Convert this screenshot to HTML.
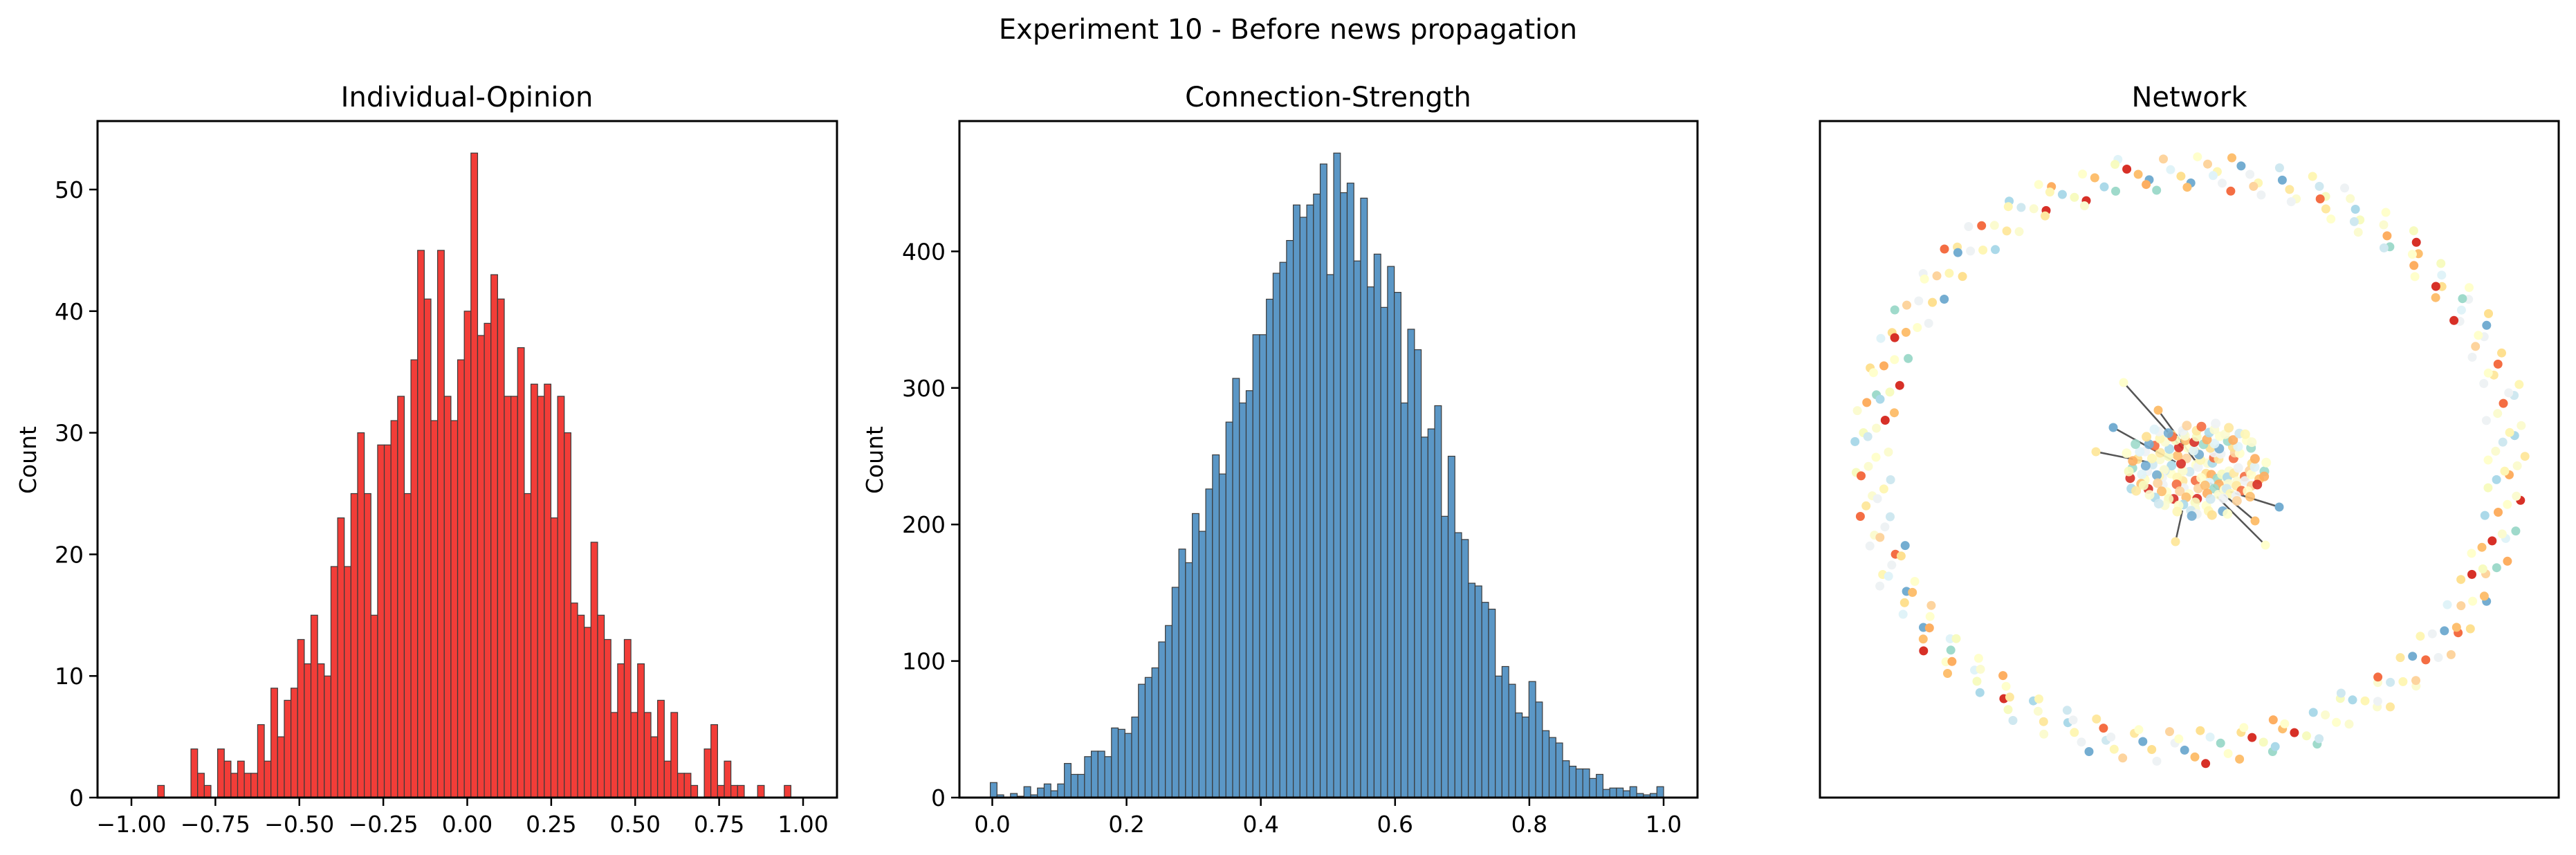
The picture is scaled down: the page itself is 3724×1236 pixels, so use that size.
<!DOCTYPE html>
<html>
<head>
<meta charset="utf-8">
<style>
html,body{margin:0;padding:0;background:#fff;}
svg{display:block;font-family:"DejaVu Sans","Liberation Sans",sans-serif;}
</style>
</head>
<body>
<svg id="fig" xmlns="http://www.w3.org/2000/svg" width="3724" height="1236" viewBox="0 0 3724 1236">
<rect width="3724" height="1236" fill="#fff"/>
<text x="1862" y="56" font-size="40" text-anchor="middle">Experiment 10 - Before news propagation</text>
<text x="675" y="154" font-size="40" text-anchor="middle">Individual-Opinion</text>
<text x="1920" y="154" font-size="40" text-anchor="middle">Connection-Strength</text>
<text x="3165" y="154" font-size="40" text-anchor="middle">Network</text>
<text transform="translate(52,665) rotate(-90)" font-size="33" text-anchor="middle">Count</text>
<text transform="translate(1276,665) rotate(-90)" font-size="33" text-anchor="middle">Count</text>
<g id="p1"></g>
<g id="p2"></g>
<g id="p3"></g>
<rect x="141" y="175" width="1069" height="978" fill="none" stroke="#000" stroke-width="3"/>
<rect x="1387" y="175" width="1067" height="978" fill="none" stroke="#000" stroke-width="3"/>
<rect x="2631" y="175" width="1068" height="978" fill="none" stroke="#000" stroke-width="3"/>
</svg>
<script>
// ---- Opinion histogram data ----
const opinionBinStart = -0.922;
const opinionBinWidth = 0.01985;
const opinionCounts = [1,0,0,0,0,4,2,1,0,4,3,2,3,2,2,6,3,9,5,8,9,13,11,15,11,10,19,23,19,25,30,25,15,29,29,31,33,25,36,45,41,31,45,33,31,36,40,53,38,39,43,41,33,33,37,25,34,33,34,23,33,30,16,15,14,21,15,13,7,11,13,7,11,7,5,8,3,7,2,2,1,0,4,6,1,3,1,1,0,0,1,0,0,0,1];
const opinionXTicks = [-1.00,-0.75,-0.50,-0.25,0.00,0.25,0.50,0.75,1.00];
const opinionXTickLabels = ["\u22121.00","\u22120.75","\u22120.50","\u22120.25","0.00","0.25","0.50","0.75","1.00"];
const opinionYTicks = [0,10,20,30,40,50];

// ---- Strength histogram data ----
const strengthBinStart = -0.003;
const strengthBinWidth = 0.01003;
const strengthCounts = [11,2,0,3,1,8,2,7,10,5,10,25,17,17,30,34,34,30,51,50,47,59,83,88,95,114,126,154,182,172,208,195,226,251,237,275,307,289,298,339,339,365,384,392,408,434,425,434,442,464,383,472,443,450,393,439,374,398,359,389,370,289,343,328,264,270,287,206,250,194,189,157,155,143,138,89,96,83,62,59,85,70,49,44,40,27,23,21,21,14,17,6,7,7,5,8,3,2,3,8];
const strengthXTicks = [0.0,0.2,0.4,0.6,0.8,1.0];
const strengthXTickLabels = ["0.0","0.2","0.4","0.6","0.8","1.0"];
const strengthYTicks = [0,100,200,300,400];

const NS = "http://www.w3.org/2000/svg";
function mk(tag, attrs, parent){
  const e = document.createElementNS(NS, tag);
  for (const k in attrs) e.setAttribute(k, attrs[k]);
  parent.appendChild(e);
  return e;
}
function hist(g, xs, ys, start, w, counts, fill, prefix){
  counts.forEach((c,i)=>{
    if (c<=0) return;
    const x0 = xs(start+i*w), x1 = xs(start+(i+1)*w);
    const r = mk('rect',{x:x0,y:ys(c),width:x1-x0,height:ys(0)-ys(c),fill:fill,stroke:'#3a3a3a','stroke-width':1.2},g);
    
    
  });
}
function axes(g, xs, ys, xt, xl, yt, prefix, left){
  xt.forEach((v,i)=>{
    const x = xs(v);
    mk('line',{x1:x,y1:1153,x2:x,y2:1165,stroke:'#000','stroke-width':2.5},g);
    const t = mk('text',{x:x,y:1203,'font-size':33,'text-anchor':'middle'},g);
    t.textContent = xl[i];
    
    
  });
  yt.forEach(v=>{
    const y = ys(v);
    mk('line',{x1:left-12,y1:y,x2:left,y2:y,stroke:'#000','stroke-width':2.5},g);
    const t = mk('text',{x:left-20,y:y+12,'font-size':33,'text-anchor':'end'},g);
    t.textContent = String(v);
    
    
  });
}
(function(){
  const g = document.getElementById('p1');
  const xs = v => 190 + (v+1)*485.5;
  const ys = v => 1153 - v*17.58;
  hist(g, xs, ys, opinionBinStart, opinionBinWidth, opinionCounts, '#f23d38', 'opinion');
  axes(g, xs, ys, opinionXTicks, opinionXTickLabels, opinionYTicks, 'opinion', 141);
})();
(function(){
  const g = document.getElementById('p2');
  const xs = v => 1434.5 + v*970.5;
  const ys = v => 1153 - v*1.974;
  hist(g, xs, ys, strengthBinStart, strengthBinWidth, strengthCounts, '#5b97c6', 'strength');
  axes(g, xs, ys, strengthXTicks, strengthXTickLabels, strengthYTicks, 'strength', 1387);
})();
// Panel 3: network (deterministic layout)
const networkPalette = ['#ffffcc','#fbfbd0','#fef6b5','#eef2f4','#fee090','#fdbf6f','#fdae61','#abd9e9','#cfe8f0','#f46d43','#74add1','#ffffcc','#9fdacb','#f7fbc0','#fbfbd0','#fee8a0','#eef2f4','#fdd49e','#e0f3f8','#d73027'];
const ringNodeCount = 300;
const clusterNodeCount = 170;
(function(){
  const g = document.getElementById('p3');
  const cx = 3165, cy = 665, rx = 462, ry = 418;
  const frac = v => v - Math.floor(v);
  for (let i=0;i<ringNodeCount;i++){
    const a = i*2.39996323;
    const j = (frac(i*0.7548776662)-0.5)*60;
    const x = cx + (rx + j)*Math.cos(a);
    const y = cy + (ry + j*0.9)*Math.sin(a);
    const col = networkPalette[Math.floor(frac(i*0.5698402910)*networkPalette.length)];
    const c = mk('circle',{cx:x.toFixed(1),cy:y.toFixed(1),r:6.5,fill:col},g);
    
    
  }
  const ccx = 3175, ccy = 678;
  const edges = [[-105,-125,-20,-30],[-55,-85,0,-10],[-120,-60,-30,-10],[-145,-25,-70,-10],[100,110,30,40],[85,75,20,20],[120,55,40,30],[-30,105,-20,60]];
  edges.forEach(e=>{
    const l = mk('line',{x1:ccx+e[0],y1:ccy+e[1],x2:ccx+e[2],y2:ccy+e[3],stroke:'#555','stroke-width':2.5},g);
    
    
  });
  edges.forEach((e,k)=>{
    const c = mk('circle',{cx:ccx+e[0],cy:ccy+e[1],r:6.5,fill:networkPalette[(k*5)%networkPalette.length]},g);
    
    
  });
  for (let i=0;i<clusterNodeCount;i++){
    const a = i*2.39996323;
    const r = Math.sqrt((i+0.5)/clusterNodeCount);
    const x = ccx + r*105*Math.cos(a) + (frac(i*0.31)-0.5)*12;
    const y = ccy + r*68*Math.sin(a) + (frac(i*0.47)-0.5)*12;
    const col = networkPalette[Math.floor(frac(i*0.4142135)*networkPalette.length)];
    const c = mk('circle',{cx:x.toFixed(1),cy:y.toFixed(1),r:7,fill:col,'fill-opacity':0.9},g);
    
    
  }
})();
</script>
</body>
</html>
